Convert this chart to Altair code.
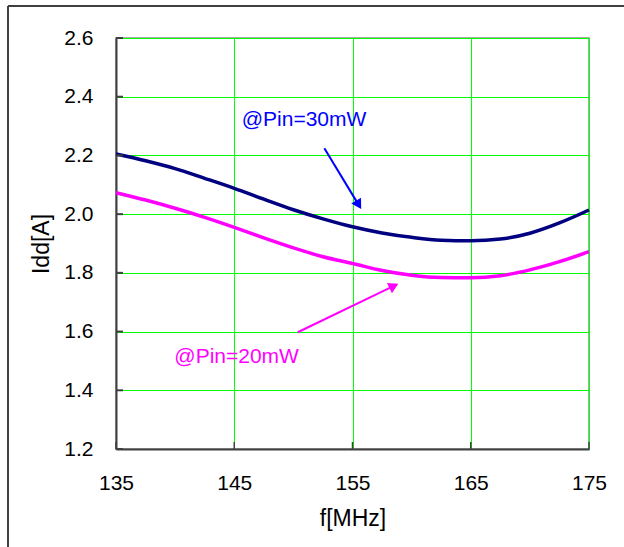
import altair as alt
import pandas as pd

freq = [135, 137.5, 140, 142.5, 145, 147.5, 150, 152.5, 155, 157.5, 160, 162.5, 165, 167.5, 170, 172.5, 175]
idd_30mw = [2.205, 2.182, 2.155, 2.122, 2.088, 2.051, 2.015, 1.984, 1.957, 1.936, 1.921, 1.911, 1.909, 1.915, 1.935, 1.970, 2.014]
idd_20mw = [2.073, 2.048, 2.020, 1.989, 1.955, 1.919, 1.885, 1.855, 1.832, 1.808, 1.792, 1.784, 1.783, 1.790, 1.810, 1.838, 1.872]

x_ticks = [135, 145, 155, 165, 175]
y_ticks = [1.2, 1.4, 1.6, 1.8, 2.0, 2.2, 2.4, 2.6]

labels = ["@Pin=30mW", "@Pin=20mW"]
label_f = [150.9, 145.2]
label_y = [2.321, 1.5145]
label_color = ["#0000FF", "#FF00FF"]

arrow_f0 = [152.62, 150.37]
arrow_y0 = [2.2243, 1.5977]
arrow_f1 = [155.52, 158.50]
arrow_y1 = [2.0316, 1.7557]
arrow_angle = [149, 64]

FONT = "Liberation Sans"

df = pd.DataFrame({
    "f": freq * 2,
    "idd": idd_30mw + idd_20mw,
    "series": ["30mW"] * len(freq) + ["20mW"] * len(freq),
})
ann = pd.DataFrame({"label": labels, "f": label_f, "y": label_y, "color": label_color})
arr = pd.DataFrame({"f0": arrow_f0, "y0": arrow_y0, "f1": arrow_f1, "y1": arrow_y1,
                    "angle": arrow_angle, "color": label_color})

xscale = alt.Scale(domain=[135, 175], nice=False, zero=False)
yscale = alt.Scale(domain=[1.2, 2.6], nice=False, zero=False)

xaxis = alt.Axis(values=x_ticks, title="f[MHz]", grid=True, gridColor="#00FF00", gridOpacity=1,
                 gridWidth=1, ticks=False, domainColor="#404040", domainWidth=2,
                 labelFont=FONT, labelFontSize=21, labelColor="#000", labelPadding=23,
                 labelFlush=False,
                 titleFont=FONT, titleFontSize=23, titleFontWeight="normal", titleColor="#000",
                 titlePadding=14)
yaxis = alt.Axis(values=y_ticks, title="Idd[A]", format=".1f", grid=True, gridColor="#00FF00",
                 gridOpacity=1, gridWidth=1, ticks=False, domainColor="#404040", domainWidth=2,
                 labelFont=FONT, labelFontSize=21, labelColor="#000", labelPadding=23,
                 labelFlush=False,
                 titleFont=FONT, titleFontSize=23, titleFontWeight="normal", titleColor="#000",
                 titlePadding=10)

lines = alt.Chart(df).mark_line(strokeWidth=3.5, interpolate="monotone").encode(
    x=alt.X("f:Q", scale=xscale, axis=xaxis),
    y=alt.Y("idd:Q", scale=yscale, axis=yaxis),
    color=alt.Color("series:N", scale=alt.Scale(domain=["30mW", "20mW"], range=["#000080", "#FF00FF"]),
                    legend=None),
)

ytick_df = pd.DataFrame({"v": y_ticks})
xtick_df = pd.DataFrame({"v": x_ticks})
yticks = alt.Chart(ytick_df).mark_rule(color="#404040", strokeWidth=2).encode(
    y=alt.Y("v:Q", scale=yscale), x=alt.value(0), x2=alt.value(7))
xticks = alt.Chart(xtick_df).mark_rule(color="#404040", strokeWidth=1.5).encode(
    x=alt.X("v:Q", scale=xscale), y=alt.value(411), y2=alt.value(404))

texts = alt.Chart(ann).mark_text(font=FONT, fontSize=21, align="center", baseline="middle").encode(
    x=alt.X("f:Q", scale=xscale), y=alt.Y("y:Q", scale=yscale),
    text="label:N", color=alt.Color("color:N", scale=None))

arrow_lines = alt.Chart(arr).mark_rule(strokeWidth=2).encode(
    x=alt.X("f0:Q", scale=xscale), y=alt.Y("y0:Q", scale=yscale),
    x2="f1:Q", y2="y1:Q", color=alt.Color("color:N", scale=None))
arrow_heads = alt.Chart(arr).mark_point(shape="triangle-up", filled=True, size=130, opacity=1).encode(
    x=alt.X("f1:Q", scale=xscale), y=alt.Y("y1:Q", scale=yscale),
    angle=alt.Angle("angle:Q", scale=None), color=alt.Color("color:N", scale=None))

frame_top = alt.Chart(ytick_df).mark_rule(color="#404040", strokeWidth=2).encode(
    x=alt.value(-108), x2=alt.value(520), y=alt.value(-32))
frame_left = alt.Chart(ytick_df).mark_rule(color="#404040", strokeWidth=2).encode(
    x=alt.value(-108), y=alt.value(-32), y2=alt.value(520))

chart = alt.layer(lines, yticks, xticks, arrow_lines, arrow_heads, texts, frame_top, frame_left).properties(
    width=473, height=411,
    autosize=alt.AutoSizeParams(type="none"),
    padding={"left": 116, "top": 38, "right": 35, "bottom": 98},
    background="white",
).configure_view(stroke="#909090", strokeWidth=1.5)

chart.save("out.html", embed_options={"renderer": "svg", "actions": False})
